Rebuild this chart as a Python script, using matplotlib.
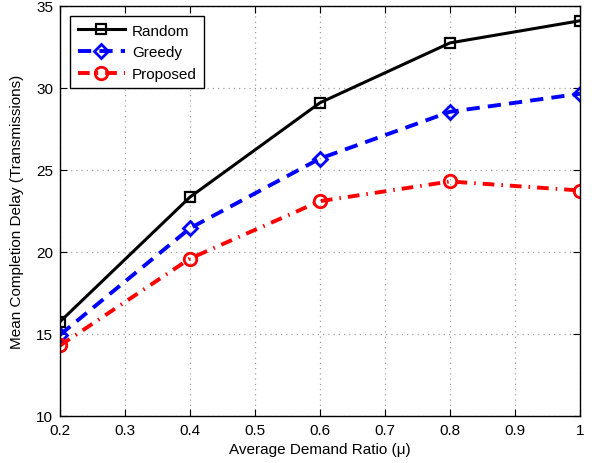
import matplotlib
matplotlib.use("Agg")
import matplotlib.pyplot as plt

plt.rcParams['font.family'] = ['Liberation Sans', 'DejaVu Sans']

x = [0.2, 0.4, 0.6, 0.8, 1.0]
random_vals = [15.75, 23.35, 29.1, 32.75, 34.1]
greedy_vals = [14.95, 21.45, 25.7, 28.55, 29.65]
proposed_vals = [14.3, 19.6, 23.1, 24.3, 23.75]
xticks = [0.2, 0.3, 0.4, 0.5, 0.6, 0.7, 0.8, 0.9, 1.0]
xticklabels = ['0.2', '0.3', '0.4', '0.5', '0.6', '0.7', '0.8', '0.9', '1']
yticks = [10, 15, 20, 25, 30, 35]

fig = plt.figure(figsize=(5.92, 4.64), dpi=100)
ax = fig.add_axes([60/592, 1-417/464, 520/592, 410/464])

ax.plot(x, random_vals, '-', color='black', lw=2.2, marker='s', ms=7,
        mfc='none', mew=1.6, label='Random')
ax.plot(x, greedy_vals, '--', color='blue', lw=2.8, marker='D', ms=7.5,
        mfc='none', mew=2, label='Greedy', dashes=(3.4, 2.1))
ax.plot(x, proposed_vals, '-.', color='red', lw=2.8, marker='o', ms=9,
        mfc='none', mew=2, label='Proposed', dashes=(3.0, 1.8, 0.4, 1.8))

ax.set_xlim(0.2, 1.0)
ax.set_ylim(10, 35)
ax.set_xticks(xticks)
ax.set_xticklabels(xticklabels)
ax.set_yticks(yticks)
ax.tick_params(direction='in', top=True, right=True, labelsize=11, length=5, pad=5)
ax.grid(True, color='#a0a0a0', linewidth=0.9, dashes=(1, 3.2))
for s in ax.spines.values():
    s.set_linewidth(1.0)

ax.set_xlabel('Average Demand Ratio (\u03bc)', fontsize=11, labelpad=4)
ax.set_ylabel('Mean Completion Delay (Transmissions)', fontsize=11, labelpad=9)

leg = ax.legend(loc='upper left', fontsize=11, fancybox=False, framealpha=1,
                edgecolor='black', borderaxespad=0.65, handlelength=3.1,
                handletextpad=0.45, labelspacing=0.5, borderpad=0.5)
leg.get_frame().set_linewidth(1.0)

fig.savefig('out.png', dpi=100)
